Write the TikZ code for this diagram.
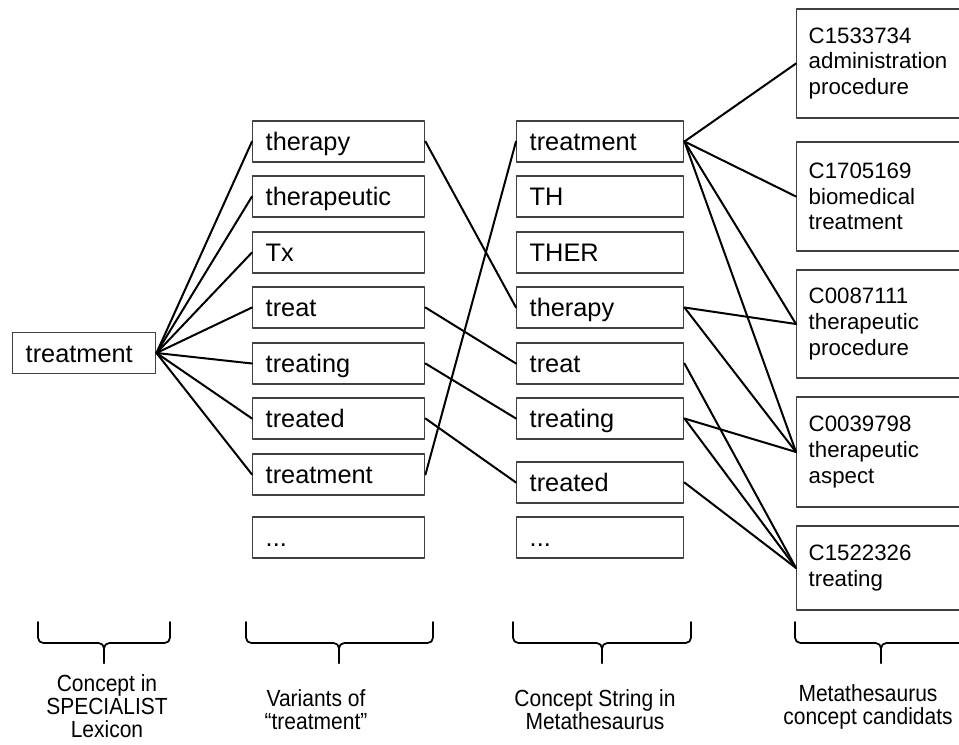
\documentclass[tikz,border=0pt]{standalone}
\usepackage{fontspec}
\setmainfont{Liberation Sans}
\newfontfamily\narrowfont[FakeStretch=0.9]{Liberation Sans}
\newcommand\ellip{...}
\tikzset{
  box/.style={draw=black!75, line width=1.1pt, anchor=west, minimum height=30.75pt,
    inner xsep=9.75pt, text height=14pt, text depth=0.5pt, align=left,
    font=\fontsize{19}{22}\selectfont},
  vbox/.style={box, text width=109.5pt},
  sbox/.style={box, text width=105.75pt},
  mbox/.style={draw=black!75, line width=1.1pt, anchor=west, inner xsep=9pt,
    text width=104.25pt, align=left, font=\fontsize{16.7}{19.3}\selectfont},
  link/.style={line width=1.5pt},
  brc/.style={line width=1.3pt, rounded corners=4pt},
  lbl/.style={align=center, font=\narrowfont\fontsize{17.5}{17.25}\selectfont},
}
\begin{document}
\begin{tikzpicture}[x=0.75pt,y=-0.75pt,line join=round,line cap=round]
\useasboundingbox (0,0) rectangle (959,745);
\def\xv{252}\def\xs{516}\def\xm{796}
% concept in the lexicon
\node[box, text width=87.75pt] (lex) at (12,353) {treatment};
% variants
\foreach \n/\t/\y in {therapy/therapy/141.5, therapeutic/therapeutic/196.5, tx/Tx/252.5,
    treat/treat/307.5, treating/treating/363.5, treated/treated/418.5,
    treatment/treatment/474.5, dots/\ellip/537.5}
  \node[vbox] (v\n) at (\xv,\y) {\t};
% concept strings
\foreach \n/\t/\y in {treatment/treatment/141.5, th/TH/196.5, ther/THER/252.5,
    therapy/therapy/307.5, treat/treat/363.5, treating/treating/418.5,
    treated/treated/482.5, dots/\ellip/537.5}
  \node[sbox] (s\n) at (\xs,\y) {\t};
% metathesaurus candidates
\node[mbox, minimum height=81.75pt] (m1) at (\xm,63.5) {C1533734\\administration\\procedure};
\node[mbox, minimum height=81.75pt] (m2) at (\xm,196.5) {C1705169\\biomedical\\treatment};
\node[mbox, minimum height=81pt] (m3) at (\xm,324) {C0087111\\therapeutic\\procedure};
\node[mbox, minimum height=82.5pt] (m4) at (\xm,452) {C0039798\\therapeutic\\aspect};
\node[mbox, minimum height=63pt] (m5) at (\xm,568) {C1522326\\treating};
% links
\foreach \n in {therapy,therapeutic,tx,treat,treating,treated,treatment}
  \draw[link] (lex.east) -- (v\n.west);
\foreach \n in {therapy,treat,treating,treated,treatment}
  \draw[link] (v\n.east) -- (s\n.west);
\foreach \a/\b in {treatment/1,treatment/2,treatment/3,treatment/4,therapy/3,therapy/4,
    treat/5,treating/4,treating/5,treated/5}
  \draw[link] (s\a.east) -- (m\b.west);
% braces
\foreach \xa/\xb/\xc in {38/170/104, 246/433/339, 513/691/602, 795/967/881} {
  \draw[brc] (\xa,622) -- (\xa,643) -- (\xc,643) -- (\xc,663);
  \draw[brc] (\xb,622) -- (\xb,643) -- (\xc,643) -- (\xc,663);
}
\node[lbl] (l1) at (107,706) {Concept in\\SPECIALIST\\Lexicon};
\node[lbl] (l2) at (316,710) {Variants of\\“treatment”};
\node[lbl] (l3) at (595,710) {Concept String in\\Metathesaurus};
\node[lbl] (l4) at (868,707) {Metathesaurus\\concept candidats};
\end{tikzpicture}
\end{document}
